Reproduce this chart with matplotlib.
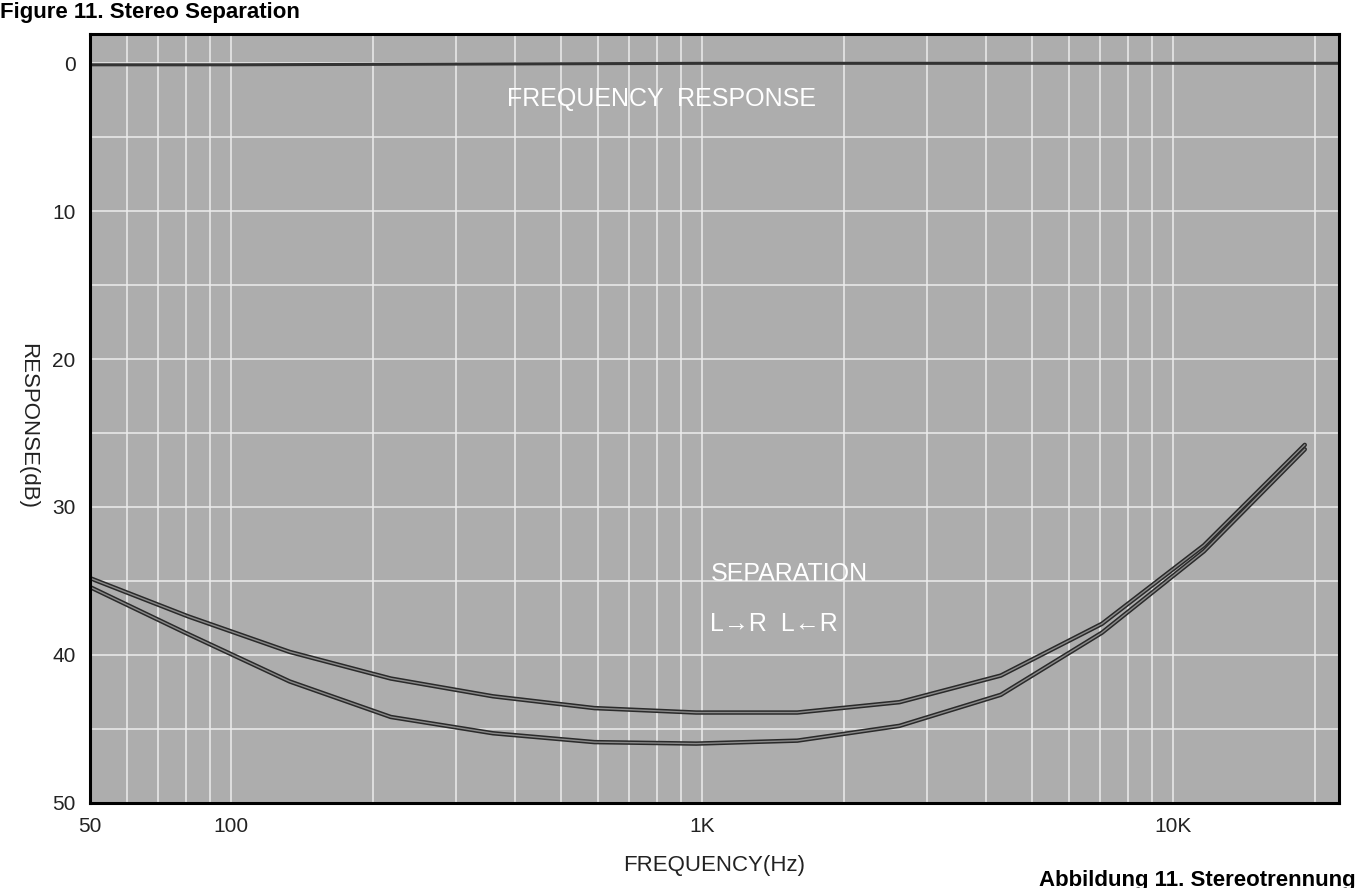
import matplotlib.pyplot as plt
import matplotlib.ticker as mticker
import numpy as np

# values
freq_resp = [50, 100, 1000, 10000, 22500]
resp_db = [0.1, 0.1, 0.0, 0.0, 0.0]

freq_sep = [50, 81, 133, 218, 359, 590, 970, 1590, 2620, 4300, 7050, 11600, 19000]
sep_upper = [34.8, 37.4, 39.8, 41.6, 42.8, 43.6, 43.9, 43.9, 43.2, 41.4, 37.9, 32.6, 25.8]
sep_lower = [35.4, 38.6, 41.8, 44.2, 45.3, 45.9, 46.0, 45.8, 44.8, 42.7, 38.5, 33.0, 26.1]

x_ticks = [50, 100, 1000, 10000]
x_labels = ['50', '100', '1K', '10K']
y_ticks = [0, 10, 20, 30, 40, 50]

bold_font = ['Liberation Sans', 'DejaVu Sans']
plt.rcParams['font.family'] = ['Liberation Sans', 'DejaVu Sans']

fig = plt.figure(figsize=(13.57, 8.88), dpi=100)
ax = fig.add_axes([0.066, 0.096, 0.921, 0.866])
ax.set_facecolor('#adadad')

ax.set_xscale('log')
ax.set_xlim(50, 22500)
ax.set_ylim(50, -2)

# white chart-paper grid
ax.xaxis.set_minor_locator(mticker.LogLocator(base=10, subs=np.arange(2, 10)))
ax.set_yticks(np.arange(0, 51, 5), minor=True)
ax.grid(True, which='both', color='#ececec', lw=1.1)
ax.set_axisbelow(True)

ax.set_xticks(x_ticks)
ax.set_xticklabels(x_labels)
ax.set_yticks(y_ticks)
ax.xaxis.set_minor_formatter(mticker.NullFormatter())
ax.tick_params(which='both', length=0, labelsize=15, colors='#222222')
ax.tick_params(axis='y', pad=10)
ax.tick_params(axis='x', pad=10)

for s in ax.spines.values():
    s.set_linewidth(2.2)
    s.set_color('black')

# curves drawn as double lines like the scan
ax.plot(freq_resp, resp_db, color='#333333', lw=2.2)
for ys in (sep_upper, sep_lower):
    ax.plot(freq_sep, ys, color='#2a2a2a', lw=3.2, solid_capstyle='round')
    ax.plot(freq_sep, ys, color='#8a8a8a', lw=1.0)

ax.text(385, 2.4, 'FREQUENCY  RESPONSE', color='white', fontsize=18, ha='left', va='center')
ax.text(1040, 34.5, 'SEPARATION', color='white', fontsize=18, ha='left', va='center')
ax.text(1040, 37.9, 'L\u2192R  L\u2190R', color='white', fontsize=18, ha='left', va='center')

ax.set_xlabel('FREQUENCY(Hz)', fontsize=16, color='#222222', labelpad=14)
fig.text(0.02, 0.52, 'RESPONSE(dB)', fontsize=16, color='#222222', rotation=-90,
         ha='center', va='center')

fig.text(0.0, 0.998, 'Figure 11. Stereo Separation', family=bold_font, fontweight='bold',
         fontsize=16, ha='left', va='top')
fig.text(0.766, 0.009, 'Abbildung 11. Stereotrennung', family=bold_font, fontweight='bold',
         fontsize=16, ha='left', va='center')

fig.savefig('out.png', dpi=100)
